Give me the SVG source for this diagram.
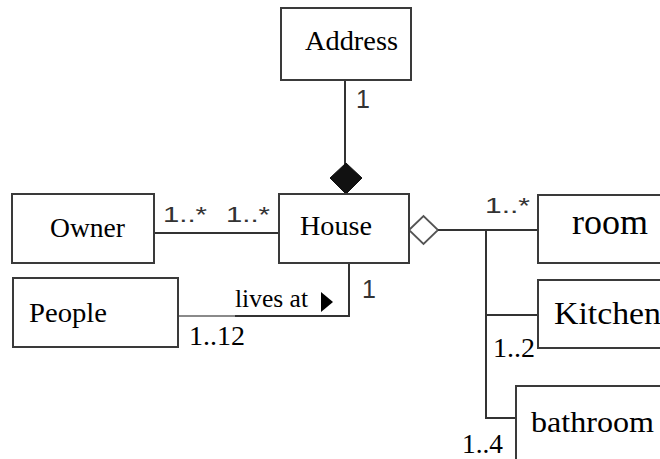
<svg xmlns="http://www.w3.org/2000/svg" width="660" height="459" viewBox="0 0 660 459">
  <style>
    .box { fill: #ffffff; stroke: #3a3a3a; stroke-width: 2; }
    .serif { font-family: 'Liberation Serif', 'DejaVu Serif', 'Times New Roman', serif; fill: #000000; }
    .mult { font-size: 27px; }
    .num { font-family: 'Liberation Sans', Arial, sans-serif; fill: #333333; }
    .line { fill: none; stroke: #333333; stroke-width: 2; }
  </style>
  <rect width="660" height="459" fill="#ffffff"/>

  <!-- connectors -->
  <g id="connectors">
    <!-- Address composition -->
    <line class="line" x1="345" y1="80" x2="345" y2="165"/>
    <polygon points="346,163 362,178 346,194 330,178" fill="#111111" stroke="#111111" stroke-width="1"/>
    <text class="num" x="356" y="108" font-size="25">1</text>

    <!-- Owner - House -->
    <line class="line" x1="154" y1="233" x2="279" y2="233"/>
    <text class="num" x="163" y="222" font-size="22" textLength="44" lengthAdjust="spacingAndGlyphs">1..*</text>
    <text class="num" x="226" y="222" font-size="22" textLength="44" lengthAdjust="spacingAndGlyphs">1..*</text>

    <!-- People lives at House -->
    <line x1="178" y1="316" x2="236" y2="316" stroke="#8a8a8a" stroke-width="2"/>
    <polyline class="line" points="235,316 349,316 349,263"/>
    <text class="serif" x="235" y="307" font-size="25" textLength="73" lengthAdjust="spacingAndGlyphs">lives at</text>
    <text class="serif mult" x="189" y="345" textLength="56" lengthAdjust="spacingAndGlyphs">1..12</text>
    <polygon points="321,292 333,302 321,312" fill="#000000"/>
    <text class="num" x="362" y="298" font-size="25">1</text>

    <!-- House aggregation of rooms -->
    <polygon points="409,230 423.5,216 438,230 423.5,244" fill="#ffffff" stroke="#555555" stroke-width="1.8"/>
    <line class="line" x1="438" y1="230" x2="538" y2="230"/>
    <polyline class="line" points="486,230 486,418 516,418"/>
    <line class="line" x1="486" y1="315" x2="538" y2="315"/>
    <text class="num" x="485" y="213" font-size="22" textLength="45" lengthAdjust="spacingAndGlyphs">1..*</text>
    <text class="serif mult" x="493" y="357" textLength="42" lengthAdjust="spacingAndGlyphs">1..2</text>
    <text class="serif mult" x="462" y="453" textLength="41" lengthAdjust="spacingAndGlyphs">1..4</text>
  </g>

  <g id="address">
    <rect class="box" x="281" y="8" width="130" height="72"/>
    <text class="serif" x="305" y="50" font-size="28" textLength="93" lengthAdjust="spacingAndGlyphs">Address</text>
  </g>

  <g id="owner">
    <rect class="box" x="12" y="194" width="142" height="69"/>
    <text class="serif" x="50" y="237" font-size="27" textLength="75" lengthAdjust="spacingAndGlyphs">Owner</text>
  </g>

  <g id="house">
    <rect class="box" x="279" y="194" width="130" height="69"/>
    <text class="serif" x="300" y="235" font-size="27" textLength="72" lengthAdjust="spacingAndGlyphs">House</text>
  </g>

  <g id="people">
    <rect class="box" x="13" y="278" width="165" height="69"/>
    <text class="serif" x="29" y="322" font-size="27" textLength="78" lengthAdjust="spacingAndGlyphs">People</text>
  </g>

  <g id="room">
    <rect class="box" x="538" y="195" width="140" height="68"/>
    <text class="serif" x="572" y="234" font-size="36" textLength="76" lengthAdjust="spacingAndGlyphs">room</text>
  </g>

  <g id="kitchen">
    <rect class="box" x="538" y="280" width="140" height="68"/>
    <text class="serif" x="554" y="324" font-size="31" textLength="107" lengthAdjust="spacingAndGlyphs">Kitchen</text>
  </g>

  <g id="bathroom">
    <rect class="box" x="516" y="386" width="160" height="90"/>
    <text class="serif" x="531" y="432" font-size="30" textLength="123" lengthAdjust="spacingAndGlyphs">bathroom</text>
  </g>
</svg>
